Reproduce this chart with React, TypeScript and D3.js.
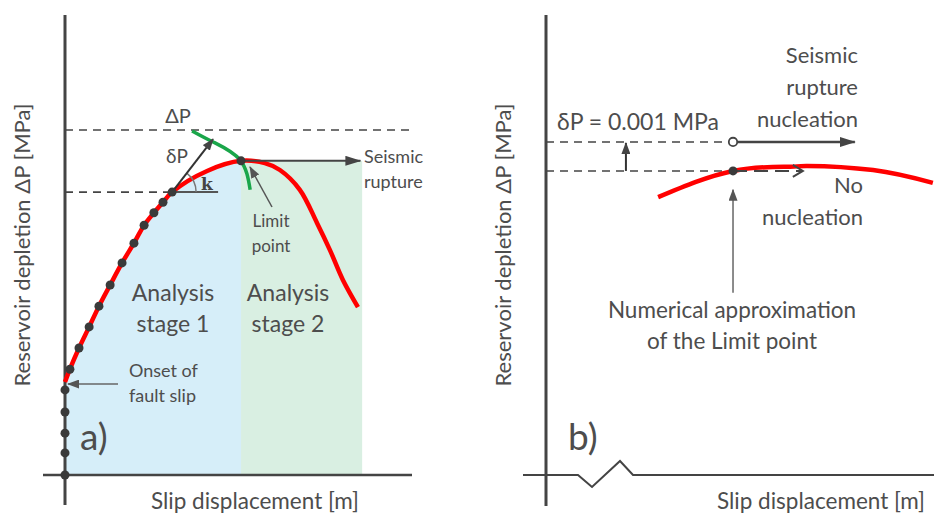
import React from "react";
import * as d3 from "d3";

// ---- Panel a data (arbitrary units: slip 0-100, depletion 0-100) ----
const axisDotsY = [0, 4.8, 9.1, 13.7, 18.5];
const curveAX = [0, 1.4, 4.0, 6.9, 9.7, 12.9, 16.3, 19.7, 22.6, 25.4, 28.0, 30.6, 40.6, 50.3, 57.1, 61.4, 67.1, 72.0, 75.7, 79.4, 83.7];
const curveAY = [20.2, 23.0, 27.6, 32.2, 36.7, 41.3, 46.1, 50.4, 54.3, 57.0, 59.3, 61.5, 66.1, 68.3, 67.8, 66.3, 62.0, 54.8, 48.9, 42.4, 36.5];
const stepDotIdx = [1, 2, 3, 4, 5, 6, 7, 8, 9, 10, 11];
const kPoint = { x: 30.6, y: 61.5 };
const limitA = { x: 50.3, y: 68.3 };
const stage2End = 84.9;
const upperLevelA = 75.0;
const deltaArrowTip = { x: 42.3, y: 73.0 };
const greenArcX = [36.3, 42.3, 50.0, 52.9];
const greenArcY = [74.8, 72.4, 68.5, 62.0];
const ruptureEndA = 84.4;

// ---- Panel b data ----
const curveBX = [28.9, 48.2, 62.9, 67.3, 84.3, 99.7];
const curveBY = [60.4, 66.1, 67.0, 67.2, 66.3, 63.5];
const limitB = { x: 48.2, y: 66.1 };
const upperLevelB = 72.4;
const deltaArrowXB = 20.6;
const nucleationEnd = 79.6;
const noNucleationEnd = 66.2;
const pointerBottomB = 39.6;
const pointerTopB = 62.0;

const FONT = "Lato, 'Open Sans', sans-serif";
const TXT = "#4d4d4d";
const AX = "#444";

export default function App() {
  const xA = d3.scaleLinear().domain([0, 100]).range([65, 415]);
  const yS = d3.scaleLinear().domain([0, 100]).range([475, 15]);
  const xB = d3.scaleLinear().domain([0, 100]).range([546, 934]);

  const ptsA = curveAX.map((x, i) => ({ x, y: curveAY[i] }));
  const lineA = d3
    .line<{ x: number; y: number }>()
    .x((d) => xA(d.x))
    .y((d) => yS(d.y))
    .curve(d3.curveCatmullRom.alpha(0.5));
  const limitIdx = curveAX.indexOf(limitA.x);
  const areaA = d3
    .area<{ x: number; y: number }>()
    .x((d) => xA(d.x))
    .y1((d) => yS(d.y))
    .y0(yS(0))
    .curve(d3.curveCatmullRom.alpha(0.5));
  const greenPts = greenArcX.map((x, i) => ({ x, y: greenArcY[i] }));
  const greenLine = d3
    .line<{ x: number; y: number }>()
    .x((d) => xA(d.x))
    .y((d) => yS(d.y))
    .curve(d3.curveNatural);

  const ptsB = curveBX.map((x, i) => ({ x, y: curveBY[i] }));
  const lineB = d3
    .line<{ x: number; y: number }>()
    .x((d) => xB(d.x))
    .y((d) => yS(d.y))
    .curve(d3.curveNatural);

  // angle arc for k
  const kx = xA(kPoint.x);
  const ky = yS(kPoint.y);
  const ang = Math.atan2(ky - yS(deltaArrowTip.y), xA(deltaArrowTip.x) - kx);
  const r = 24;
  const arcPath = `M${kx + r},${ky} A${r},${r} 0 0 0 ${kx + r * Math.cos(ang)},${ky - r * Math.sin(ang)}`;

  const y0 = yS(0);
  const zig = `M523,${y0} L578,${y0} L592,${y0 + 12} L620,${y0 - 14} L633,${y0} L934,${y0}`;

  return (
    <svg
      width={934}
      height={516}
      style={{ position: "absolute", left: 0, top: 0, background: "#fff" }}
      fontFamily={FONT}
    >
      <defs>
        <marker id="arr" markerUnits="userSpaceOnUse" markerWidth={16} markerHeight={10} refX={15} refY={5} orient="auto">
          <path d="M0,0 L16,5 L0,10 Z" fill="#444" />
        </marker>
        <marker id="arrS" markerUnits="userSpaceOnUse" markerWidth={12} markerHeight={9} refX={11} refY={4.5} orient="auto">
          <path d="M0,0 L12,4.5 L0,9 Z" fill="#444" />
        </marker>
        <marker id="arrG" markerUnits="userSpaceOnUse" markerWidth={12} markerHeight={9} refX={11} refY={4.5} orient="auto">
          <path d="M0,0 L12,4.5 L0,9 Z" fill="#555" />
        </marker>
        <marker id="chev" markerUnits="userSpaceOnUse" markerWidth={14} markerHeight={14} refX={12} refY={7} orient="auto">
          <path d="M2,1 L12,7 L2,13" fill="none" stroke="#444" strokeWidth={2} />
        </marker>
      </defs>

      {/* ================= Panel a ================= */}
      <path d={areaA(ptsA.slice(0, limitIdx + 1)) || ""} fill="#d6eef9" />
      <rect
        x={xA(limitA.x)}
        y={yS(limitA.y)}
        width={xA(stage2End) - xA(limitA.x)}
        height={y0 - yS(limitA.y)}
        fill="#d9efe2"
      />

      {/* dashed levels */}
      <line x1={xA(0)} x2={412} y1={yS(upperLevelA)} y2={yS(upperLevelA)} stroke={AX} strokeWidth={1.6} strokeDasharray="8 6" />
      <line x1={xA(0)} x2={kx} y1={ky} y2={ky} stroke={AX} strokeWidth={1.6} strokeDasharray="8 6" />

      {/* axes */}
      <line x1={65} x2={65} y1={15} y2={505} stroke={AX} strokeWidth={3} />
      <line x1={43} x2={412} y1={y0} y2={y0} stroke={AX} strokeWidth={2.5} />

      {/* red curve */}
      <path d={lineA(ptsA) || ""} fill="none" stroke="#ff0000" strokeWidth={4.5} strokeLinecap="butt" />

      {/* green arc */}
      <path d={greenLine(greenPts) || ""} fill="none" stroke="#1aa64a" strokeWidth={3.5} />

      {/* k angle */}
      <line x1={kx} x2={kx + 46} y1={ky} y2={ky} stroke="#555" strokeWidth={2} />
      <path d={arcPath} fill="none" stroke="#777" strokeWidth={1.5} />
      <text x={207} y={ky - 2} fontFamily="'DejaVu Serif', 'Liberation Serif', serif" fontWeight="bold" fontSize={17} fill="#444" textAnchor="middle">k</text>

      {/* delta P arrow */}
      <line x1={kx} y1={ky} x2={xA(deltaArrowTip.x)} y2={yS(deltaArrowTip.y)} stroke="#333" strokeWidth={2} markerEnd="url(#arrS)" />

      {/* seismic rupture arrow */}
      <line x1={xA(limitA.x)} y1={yS(limitA.y)} x2={xA(ruptureEndA)} y2={yS(limitA.y)} stroke="#444" strokeWidth={2} markerEnd="url(#arr)" />

      {/* limit point pointer */}
      <line x1={272} y1={207} x2={250} y2={167} stroke="#555" strokeWidth={1.5} markerEnd="url(#arrG)" />

      {/* onset arrow */}
      <line x1={118} y1={yS(curveAY[0]) + 2} x2={68} y2={yS(curveAY[0]) + 2} stroke="#666" strokeWidth={1.5} markerEnd="url(#arrG)" />

      {/* dots */}
      {axisDotsY.map((v, i) => (
        <circle key={"ad" + i} cx={xA(0)} cy={yS(v)} r={4.5} fill="#3a3a3a" />
      ))}
      {stepDotIdx.map((i) => (
        <circle key={"sd" + i} cx={xA(curveAX[i])} cy={yS(curveAY[i])} r={4.5} fill="#3a3a3a" />
      ))}
      <circle cx={xA(limitA.x)} cy={yS(limitA.y)} r={4.5} fill="#3a3a3a" />

      {/* texts a */}
      <text x={178} y={123} fontSize={20} fill={TXT} textAnchor="middle">ΔP</text>
      <text x={177} y={163} fontSize={19} fill={TXT} textAnchor="middle">δP</text>
      <text x={364} y={163} fontSize={18} fill={TXT}>Seismic</text>
      <text x={364} y={188} fontSize={18} fill={TXT}>rupture</text>
      <text x={271} y={227} fontSize={17} fill={TXT} textAnchor="middle">Limit</text>
      <text x={271} y={252} fontSize={17} fill={TXT} textAnchor="middle">point</text>
      <text x={173} y={301} fontSize={23} fill={TXT} textAnchor="middle">Analysis</text>
      <text x={173} y={332} fontSize={23} fill={TXT} textAnchor="middle">stage 1</text>
      <text x={288} y={301} fontSize={23} fill={TXT} textAnchor="middle">Analysis</text>
      <text x={288} y={332} fontSize={23} fill={TXT} textAnchor="middle">stage 2</text>
      <text x={129} y={377} fontSize={18} fill={TXT}>Onset of</text>
      <text x={129} y={402} fontSize={18} fill={TXT}>fault slip</text>
      <text x={80} y={450} fontSize={37} fill={TXT}>a)</text>
      <text x={255} y={509} fontSize={22.5} fill={TXT} textAnchor="middle">Slip displacement [m]</text>
      <text transform="translate(30,245) rotate(-90)" fontSize={22} fill={TXT} textAnchor="middle">Reservoir depletion ΔP [MPa]</text>

      {/* ================= Panel b ================= */}
      <line x1={546} x2={546} y1={15} y2={506} stroke={AX} strokeWidth={3} />
      <path d={zig} fill="none" stroke={AX} strokeWidth={2} />

      <line x1={xB(0)} x2={xB(limitB.x)} y1={yS(upperLevelB)} y2={yS(upperLevelB)} stroke={AX} strokeWidth={1.6} strokeDasharray="8 6" />
      <line x1={xB(0)} x2={xB(limitB.x)} y1={yS(limitB.y)} y2={yS(limitB.y)} stroke={AX} strokeWidth={1.6} strokeDasharray="8 6" />

      <path d={lineB(ptsB) || ""} fill="none" stroke="#ff0000" strokeWidth={4.5} />

      <line x1={xB(deltaArrowXB)} x2={xB(deltaArrowXB)} y1={yS(limitB.y)} y2={yS(upperLevelB) + 1} stroke="#333" strokeWidth={2} markerEnd="url(#arrS)" />

      <line x1={xB(limitB.x) + 4} x2={xB(nucleationEnd)} y1={yS(upperLevelB)} y2={yS(upperLevelB)} stroke="#444" strokeWidth={2.5} markerEnd="url(#arr)" />
      <line x1={xB(limitB.x)} x2={xB(noNucleationEnd)} y1={yS(limitB.y)} y2={yS(limitB.y)} stroke="#444" strokeWidth={2} strokeDasharray="14 7" markerEnd="url(#chev)" />

      <circle cx={xB(limitB.x)} cy={yS(upperLevelB)} r={4.2} fill="#fff" stroke="#444" strokeWidth={1.8} />
      <circle cx={xB(limitB.x)} cy={yS(limitB.y)} r={4.5} fill="#3a3a3a" />

      <line x1={xB(limitB.x)} x2={xB(limitB.x)} y1={yS(pointerBottomB)} y2={yS(pointerTopB)} stroke="#666" strokeWidth={1.5} markerEnd="url(#arrG)" />

      <text x={557} y={130} fontSize={23} fill={TXT}>δP = 0.001 MPa</text>
      <text x={858} y={63} fontSize={22} fill={TXT} textAnchor="end">Seismic</text>
      <text x={858} y={95} fontSize={22} fill={TXT} textAnchor="end">rupture</text>
      <text x={858} y={127} fontSize={22} fill={TXT} textAnchor="end">nucleation</text>
      <text x={863} y={193} fontSize={22} fill={TXT} textAnchor="end">No</text>
      <text x={863} y={225} fontSize={22} fill={TXT} textAnchor="end">nucleation</text>
      <text x={732} y={318} fontSize={22.5} fill={TXT} textAnchor="middle">Numerical approximation</text>
      <text x={732} y={349} fontSize={22.5} fill={TXT} textAnchor="middle">of the Limit point</text>
      <text x={568} y={450} fontSize={37} fill={TXT}>b)</text>
      <text x={925} y={509} fontSize={22.5} fill={TXT} textAnchor="end">Slip displacement [m]</text>
      <text transform="translate(511,245) rotate(-90)" fontSize={22} fill={TXT} textAnchor="middle">Reservoir depletion ΔP [MPa]</text>
    </svg>
  );
}
